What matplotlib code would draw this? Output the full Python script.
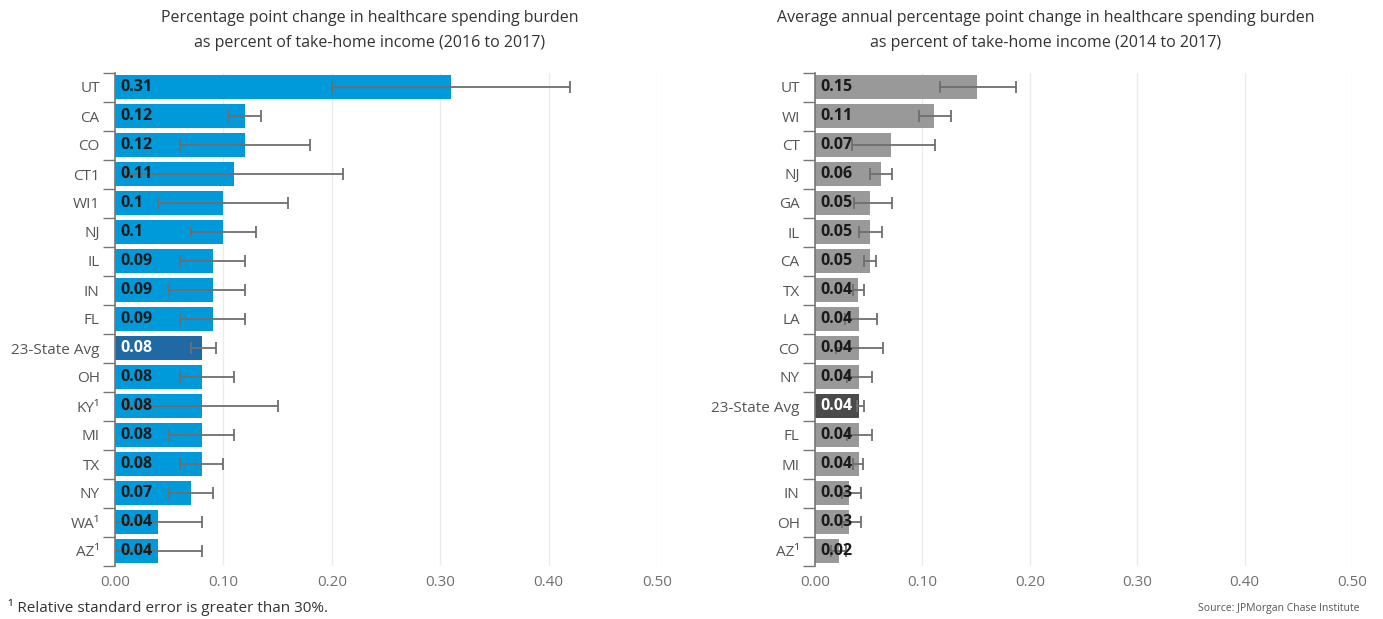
import matplotlib
matplotlib.use("Agg")
import matplotlib.pyplot as plt
import numpy as np

plt.rcParams['font.family'] = ['Open Sans', 'DejaVu Sans']

# ---- Left panel data (2016 to 2017) ----
left_labels = ["UT", "CA", "CO", "CT1", "WI1", "NJ", "IL", "IN", "FL", "23-State Avg",
               "OH", "KY¹", "MI", "TX", "NY", "WA¹", "AZ¹"]
left_values = [0.31, 0.12, 0.12, 0.11, 0.10, 0.10, 0.09, 0.09, 0.09, 0.08,
               0.08, 0.08, 0.08, 0.08, 0.07, 0.04, 0.04]
left_low = [0.20, 0.105, 0.06, 0.01, 0.04, 0.07, 0.06, 0.05, 0.06, 0.07,
            0.06, 0.01, 0.05, 0.06, 0.05, 0.00, 0.00]
left_high = [0.42, 0.135, 0.18, 0.21, 0.16, 0.13, 0.12, 0.12, 0.12, 0.093,
             0.11, 0.15, 0.11, 0.10, 0.09, 0.08, 0.08]
left_text = ["0.31", "0.12", "0.12", "0.11", "0.1", "0.1", "0.09", "0.09", "0.09", "0.08",
             "0.08", "0.08", "0.08", "0.08", "0.07", "0.04", "0.04"]

# ---- Right panel data (2014 to 2017, annual average) ----
right_labels = ["UT", "WI", "CT", "NJ", "GA", "IL", "CA", "TX", "LA", "CO", "NY",
                "23-State Avg", "FL", "MI", "IN", "OH", "AZ¹"]
right_values = [0.151, 0.111, 0.071, 0.061, 0.051, 0.051, 0.051, 0.040, 0.041, 0.041, 0.041,
                0.041, 0.041, 0.041, 0.032, 0.032, 0.022]
right_low = [0.116, 0.097, 0.034, 0.051, 0.036, 0.041, 0.046, 0.035, 0.028, 0.020, 0.030,
             0.039, 0.030, 0.035, 0.025, 0.025, 0.015]
right_high = [0.187, 0.127, 0.112, 0.072, 0.072, 0.062, 0.057, 0.046, 0.058, 0.063, 0.053,
              0.046, 0.053, 0.045, 0.043, 0.043, 0.029]
right_text = ["0.15", "0.11", "0.07", "0.06", "0.05", "0.05", "0.05", "0.04", "0.04", "0.04", "0.04",
              "0.04", "0.04", "0.04", "0.03", "0.03", "0.02"]

x_ticks = [0.0, 0.1, 0.2, 0.3, 0.4, 0.5]
x_ticklabels = ["0.00", "0.10", "0.20", "0.30", "0.40", "0.50"]

W, H = 1383, 619
fig = plt.figure(figsize=(W / 100, H / 100), dpi=100)
fig.patch.set_facecolor("white")


def panel(rect, labels, values, low, high, texts, color, avg_color, title, title_x):
    ax = fig.add_axes(rect)
    n = len(labels)
    y = np.arange(n)
    colors = [avg_color if l == "23-State Avg" else color for l in labels]
    ax.barh(y, values, height=0.8, color=colors, zorder=2)
    v = np.array(values)
    xerr = np.array([v - np.array(low), np.array(high) - v])
    ax.errorbar(v, y, xerr=xerr, fmt="none", ecolor="#6e6e6e", elinewidth=1.3,
                capsize=4, capthick=1.3, zorder=4)
    for i, (val, t, l) in enumerate(zip(values, texts, labels)):
        tc = "white" if l == "23-State Avg" else "#1a1a1a"
        ax.annotate(t, xy=(0, i), xytext=(4, 0), textcoords="offset points",
                    ha="left", va="center", fontsize=11.5, fontweight="bold",
                    color=tc, zorder=5)
    ax.set_ylim(n - 0.5, -0.5)
    ax.set_xlim(0, 0.5)
    ax.set_xticks(x_ticks)
    ax.set_xticklabels(x_ticklabels, fontsize=11, color="#707070")
    ax.set_yticks(y)
    ax.set_yticklabels(labels, fontsize=11, color="#555555")
    ax.set_yticks(np.arange(-0.5, n, 1.0), minor=True)
    ax.tick_params(axis="y", which="major", length=0, pad=11)
    ax.tick_params(axis="y", which="minor", length=9, width=1, color="#777777")
    ax.tick_params(axis="x", length=0, pad=7)
    for s in ["top", "right", "bottom"]:
        ax.spines[s].set_visible(False)
    ax.spines["left"].set_color("#777777")
    ax.spines["left"].set_linewidth(1.2)
    ax.spines["left"].set_zorder(6)
    ax.grid(axis="x", color="#ebebeb", linewidth=1, zorder=0)
    ax.set_axisbelow(True)
    l1, l2 = title.split("\n")
    fig.text(title_x / W, 1 - 18 / H, l1, fontsize=11.5, color="#333333",
             ha="center", va="center")
    fig.text(title_x / W, 1 - 43 / H, l2, fontsize=11.5, color="#333333",
             ha="center", va="center")
    return ax


top_px, bot_px = 72.5, 565.5
panel([115 / W, 1 - bot_px / H, (657 - 115) / W, (bot_px - top_px) / H],
      left_labels, left_values, left_low, left_high, left_text,
      "#0099da", "#1f6aa5",
      "Percentage point change in healthcare spending burden\nas percent of take-home income (2016 to 2017)",
      370)
panel([815 / W, 1 - bot_px / H, (1352 - 815) / W, (bot_px - top_px) / H],
      right_labels, right_values, right_low, right_high, right_text,
      "#999999", "#4a4a4a",
      "Average annual percentage point change in healthcare spending burden\nas percent of take-home income (2014 to 2017)",
      1046)

fig.text(8 / W, 1 - 608 / H, "¹ Relative standard error is greater than 30%.",
         fontsize=11, color="#333333", va="center", ha="left")
fig.text(1360 / W, 1 - 608 / H, "Source: JPMorgan Chase Institute",
         fontsize=7.5, color="#555555", va="center", ha="right")

fig.savefig("out.png", dpi=100)
